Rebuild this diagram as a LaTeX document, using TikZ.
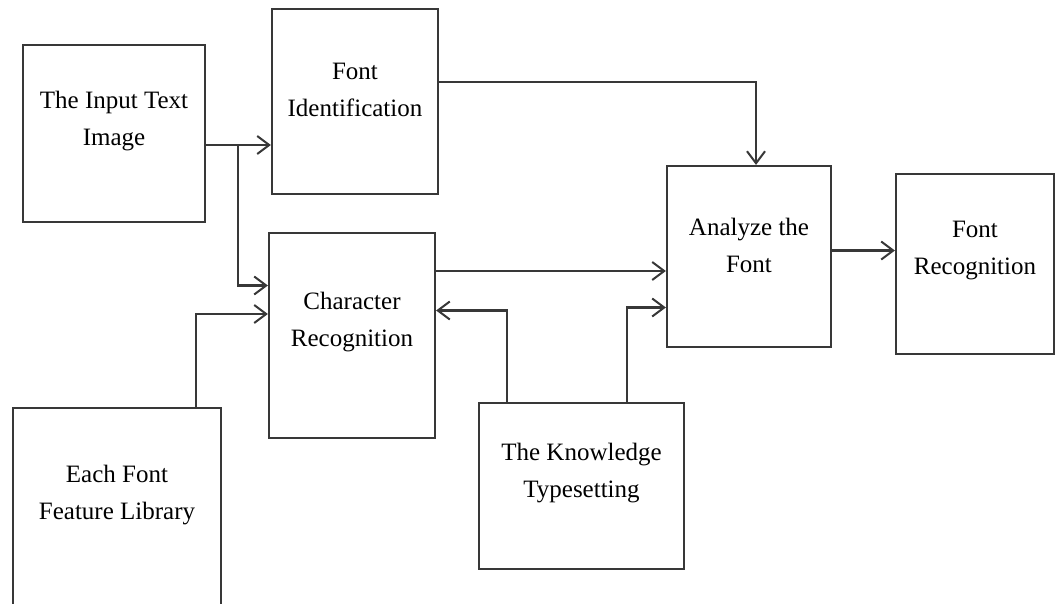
\documentclass[tikz,border=0pt]{standalone}
\usepackage{fontspec}
\setmainfont{Liberation Serif}
\usetikzlibrary{arrows.meta}
\definecolor{trait}{HTML}{383838}
\tikzset{
  boite/.style={draw=trait, line width=2.2pt, inner sep=0pt},
  texte/.style={align=center, font=\fontsize{25}{37}\selectfont},
  fil/.style={draw=trait, line width=2.2pt},
  fleche/.style={fil, -{Straight Barb[length=12pt,width=18pt,line width=2pt]}},
}
\begin{document}
\begin{tikzpicture}[x=1pt,y=-1pt]
\clip (0,0) rectangle (1056,604);
\fill[white] (0,0) rectangle (1056,604);

% Les boites
\node[boite, minimum width=182pt, minimum height=177pt,
  label={[texte,yshift=12.5pt]center:The Input Text\\Image}] (entree) at (114,133.5) {};
\node[boite, minimum width=166pt, minimum height=185pt,
  label={[texte,yshift=11.5pt]center:Font\\Identification}] (ident) at (355,101.5) {};
\node[boite, minimum width=166pt, minimum height=205pt,
  label={[texte,yshift=13.5pt]center:Character\\Recognition}] (carac) at (352,335.5) {};
\node[boite, minimum width=208pt, minimum height=232pt,
  label={[texte,yshift=28.5pt]center:Each Font\\Feature Library}] (biblio) at (117,524) {};
\node[boite, minimum width=164pt, minimum height=181pt,
  label={[texte,yshift=11pt]center:Analyze the\\Font}] (analyse) at (749,256.5) {};
\node[boite, minimum width=158pt, minimum height=180pt,
  label={[texte,yshift=13pt]center:Font\\Recognition}] (resultat) at (975,264) {};
\node[boite, minimum width=205pt, minimum height=166pt,
  label={[texte,yshift=13pt]center:The Knowledge\\Typesetting}] (savoir) at (581.5,486) {};

% Entree vers identification et reconnaissance
\coordinate (embr) at (238,145);
\draw[fil] (entree.east |- embr) -- (embr);
\draw[fleche] (embr) -- (embr -| ident.west);
\draw[fleche] (embr) |- ([yshift=50pt]carac.west);

% Bibliotheque vers reconnaissance
\draw[fleche] ([xshift=79pt]biblio.north) |- ([yshift=21.5pt]carac.west);

% Identification vers analyse
\draw[fleche] ([yshift=19.5pt]ident.east) -| ([xshift=7pt]analyse.north);

% Reconnaissance vers analyse
\coordinate (sortie) at ([yshift=64.5pt]carac.east);
\draw[fleche] (sortie) -- (sortie -| analyse.west);

% Analyse vers resultat
\coordinate (fin) at ([yshift=6pt]analyse.east);
\draw[fleche] (fin) -- (fin -| resultat.west);

% Connaissance vers reconnaissance et analyse
\draw[fleche] ([xshift=-74.5pt]savoir.north) |- ([yshift=25pt]carac.east);
\draw[fleche] ([xshift=45.5pt]savoir.north) |- ([yshift=-51pt]analyse.west);

\end{tikzpicture}
\end{document}
